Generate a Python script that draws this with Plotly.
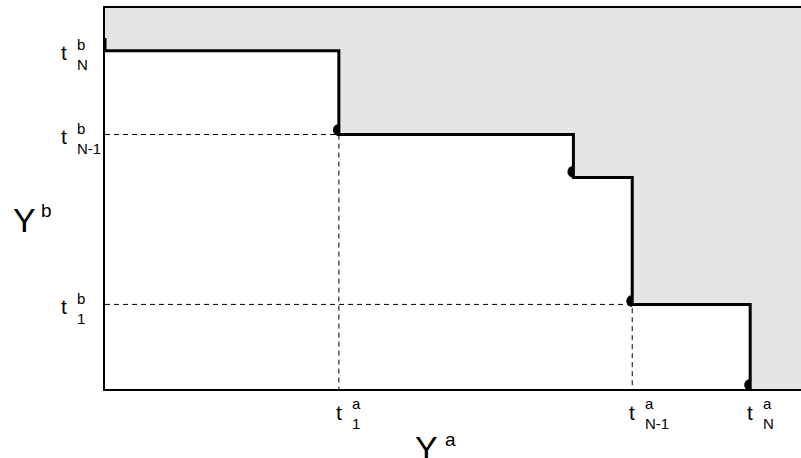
import plotly.graph_objects as go

# ---- data (arbitrary units) ----
step_x = [0, 0, 33.6, 67.3, 75.75, 92.7]
step_y = [92.1, 88.8, 66.8, 55.5, 22.2, 0]
dot_x = [33.6, 67.3, 75.75, 92.7]
dot_y = [68.0, 57.0, 23.1, 1.05]
x_ticks = [33.6, 75.75, 92.7]
x_tick_sup = ["a", "a", "a"]
x_tick_sub = ["1", "N-1", "N"]
y_ticks = [22.2, 66.8, 88.8]
y_tick_sup = ["b", "b", "b"]
y_tick_sub = ["1", "N-1", "N"]
x_max, y_max = 100, 100

FONT = "Liberation Sans, Arial, sans-serif"


def hv_corners(xs, ys):
    cx, cy = [xs[0]], [ys[0]]
    for i in range(1, len(xs)):
        cx += [xs[i], xs[i]]
        cy += [ys[i - 1], ys[i]]
    return cx, cy


fig = go.Figure()

# dots, each followed by a white patch hiding its right half (below the step)
for i, (dx, dy) in enumerate(zip(dot_x, dot_y)):
    fig.add_trace(go.Scatter(x=[dx], y=[dy], mode="markers",
                             marker=dict(size=12, color="black"), cliponaxis=False))
    k = i + 2
    if k + 1 < len(step_x):
        x0, x1 = step_x[k], step_x[k + 1]
        yk = step_y[k]
        fig.add_trace(go.Scatter(x=[x0, x1, x1, x0, x0], y=[0, 0, yk, yk, 0],
                                 mode="lines", fill="toself", fillcolor="white",
                                 line=dict(width=0, color="white")))

# gray region above/right of the staircase
gx, gy = hv_corners(step_x[1:], step_y[1:])
gx += [x_max, x_max, step_x[1]]
gy += [0, y_max, y_max]
fig.add_trace(go.Scatter(x=gx, y=gy, mode="lines", fill="toself",
                         fillcolor="#e5e5e5", line=dict(width=0, color="#e5e5e5")))

# dashed guide lines
dash_x = [0, x_ticks[0], x_ticks[0], None, 0, x_ticks[1], x_ticks[1]]
dash_y = [y_ticks[1], y_ticks[1], 0, None, y_ticks[0], y_ticks[0], 0]
fig.add_trace(go.Scatter(x=dash_x, y=dash_y, mode="lines",
                         line=dict(color="black", width=1, dash="5px,4px")))

# staircase
fig.add_trace(go.Scatter(x=step_x, y=step_y, mode="lines", line_shape="hv",
                         line=dict(color="black", width=3)))

T_SIZE, S_SIZE = 21, 15
ann = []
for xv, sup, sub in zip(x_ticks, x_tick_sup, x_tick_sub):
    ann.append(dict(x=xv, y=0, xref="x", yref="paper", text="t", showarrow=False,
                    xanchor="center", yanchor="middle", yshift=-23,
                    font=dict(size=T_SIZE, family=FONT, color="black")))
    ann.append(dict(x=xv, y=0, xref="x", yref="paper", text=sup, showarrow=False,
                    xanchor="left", yanchor="middle", xshift=11, yshift=-14,
                    font=dict(size=S_SIZE, family=FONT, color="black")))
    ann.append(dict(x=xv, y=0, xref="x", yref="paper", text=sub, showarrow=False,
                    xanchor="left", yanchor="middle", xshift=11, yshift=-34,
                    font=dict(size=S_SIZE, family=FONT, color="black")))
for yv, sup, sub in zip(y_ticks, y_tick_sup, y_tick_sub):
    ann.append(dict(x=0, y=yv, xref="paper", yref="y", text="t", showarrow=False,
                    xanchor="center", yanchor="middle", xshift=-41, yshift=-2,
                    font=dict(size=T_SIZE, family=FONT, color="black")))
    ann.append(dict(x=0, y=yv, xref="paper", yref="y", text=sup, showarrow=False,
                    xanchor="left", yanchor="middle", xshift=-30, yshift=6,
                    font=dict(size=S_SIZE, family=FONT, color="black")))
    ann.append(dict(x=0, y=yv, xref="paper", yref="y", text=sub, showarrow=False,
                    xanchor="left", yanchor="middle", xshift=-30, yshift=-14,
                    font=dict(size=S_SIZE, family=FONT, color="black")))

# axis titles
ann.append(dict(x=0, y=0.5, xref="paper", yref="paper", text="Y", showarrow=False,
                xanchor="center", yanchor="middle", xshift=-81, yshift=-21,
                font=dict(size=34, family=FONT, color="black")))
ann.append(dict(x=0, y=0.5, xref="paper", yref="paper", text="b", showarrow=False,
                xanchor="left", yanchor="middle", xshift=-66, yshift=-12,
                font=dict(size=19, family=FONT, color="black")))
ann.append(dict(x=0.4, y=0, xref="paper", yref="paper", text="Y", showarrow=False,
                xanchor="center", yanchor="middle", xshift=43, yshift=-59,
                font=dict(size=34, family=FONT, color="black")))
ann.append(dict(x=0.4, y=0, xref="paper", yref="paper", text="a", showarrow=False,
                xanchor="left", yanchor="middle", xshift=60, yshift=-50,
                font=dict(size=19, family=FONT, color="black")))

fig.update_layout(
    width=801, height=458,
    margin=dict(l=105, r=0, t=8, b=69),
    paper_bgcolor="white", plot_bgcolor="white",
    showlegend=False, hovermode=False,
    annotations=ann,
    xaxis=dict(range=[0, x_max], showgrid=False, zeroline=False, showticklabels=False,
               ticks="", showline=True, linecolor="black", linewidth=1.5, mirror=True),
    yaxis=dict(range=[0, y_max], showgrid=False, zeroline=False, showticklabels=False,
               ticks="", showline=True, linecolor="black", linewidth=1.5, mirror=False),
)
fig.write_html(
    "out.html",
    config={"displayModeBar": False},
    post_script="document.body.style.margin='0';"
                "document.documentElement.style.overflow='hidden';",
)
